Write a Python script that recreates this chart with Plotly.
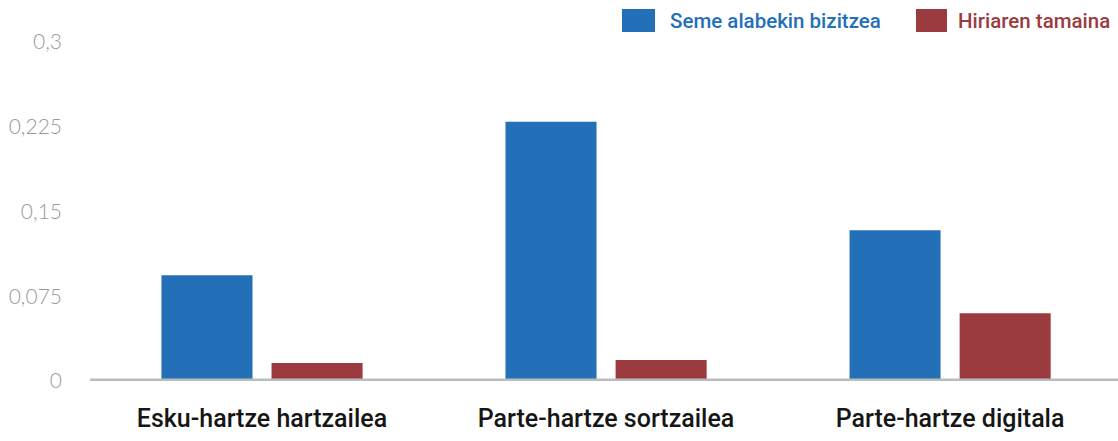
import plotly.graph_objects as go

categories = ["Esku-hartze hartzailea", "Parte-hartze sortzailea", "Parte-hartze digitala"]
series_names = ["Seme alabekin bizitzea", "Hiriaren tamaina"]
seme_values = [0.0935, 0.2295, 0.1335]
hiri_values = [0.016, 0.0185, 0.060]
y_tickvals = [0, 0.075, 0.15, 0.225, 0.3]
y_ticktext = ["0", "0,075", "0,15", "0,225", "0,3"]

blue = "#2370b9"
red = "#9c3b3f"
cond_font = "Roboto, sans-serif"

fig = go.Figure()
for name, vals, col in [(series_names[0], seme_values, blue), (series_names[1], hiri_values, red)]:
    fig.add_trace(go.Bar(x=categories, y=vals, name=name,
                         marker=dict(color=col, line=dict(width=0)),
                         showlegend=False, hoverinfo="skip"))

W, H = 1118, 441
ml, mr, mt, mb = 90, 0, 42, 60

fig.update_layout(
    width=W, height=H,
    margin=dict(l=ml, r=mr, t=mt, b=mb, pad=0),
    paper_bgcolor="white", plot_bgcolor="white",
    barmode="group", bargap=0.36, bargroupgap=0.173,
    separators=",.",
    xaxis=dict(range=[-0.5, 2.488], showgrid=False, zeroline=False,
               showline=False, ticks="",
               tickfont=dict(family=cond_font, size=25, color="#161616", weight=500),
               ticklabelstandoff=20),
    yaxis=dict(range=[0, 0.3], tickvals=y_tickvals, ticktext=y_ticktext,
               showgrid=False, zeroline=False, showline=False, ticks="",
               tickfont=dict(family="Lato, sans-serif", size=21, color="#9a9a9a", weight=300),
               ticklabelstandoff=27),
)

# baseline axis line
fig.add_shape(type="line", xref="paper", yref="y", x0=0, x1=1, y0=0, y1=0,
              line=dict(color="#b9bcbc", width=5), layer="above")

# custom legend
def px_x(x):
    return (x - ml) / (W - ml - mr)

def px_y(y):
    return (H - mb - y) / (H - mt - mb)

legend_items = [(series_names[0], blue, 622, 655, 668), (series_names[1], red, 916, 947, 956)]
for name, col, x0, x1, tx in legend_items:
    fig.add_shape(type="rect", xref="paper", yref="paper",
                  x0=px_x(x0), x1=px_x(x1), y0=px_y(32), y1=px_y(9),
                  fillcolor=col, line=dict(width=0))
    fig.add_annotation(xref="paper", yref="paper", x=px_x(tx), y=px_y(21),
                       xanchor="left", yanchor="middle", showarrow=False,
                       text=name, font=dict(family=cond_font, size=20.5, color=col, weight=500))

fig.write_html("out.html", config={"displayModeBar": False},
               post_script="document.body.style.margin='0';")
